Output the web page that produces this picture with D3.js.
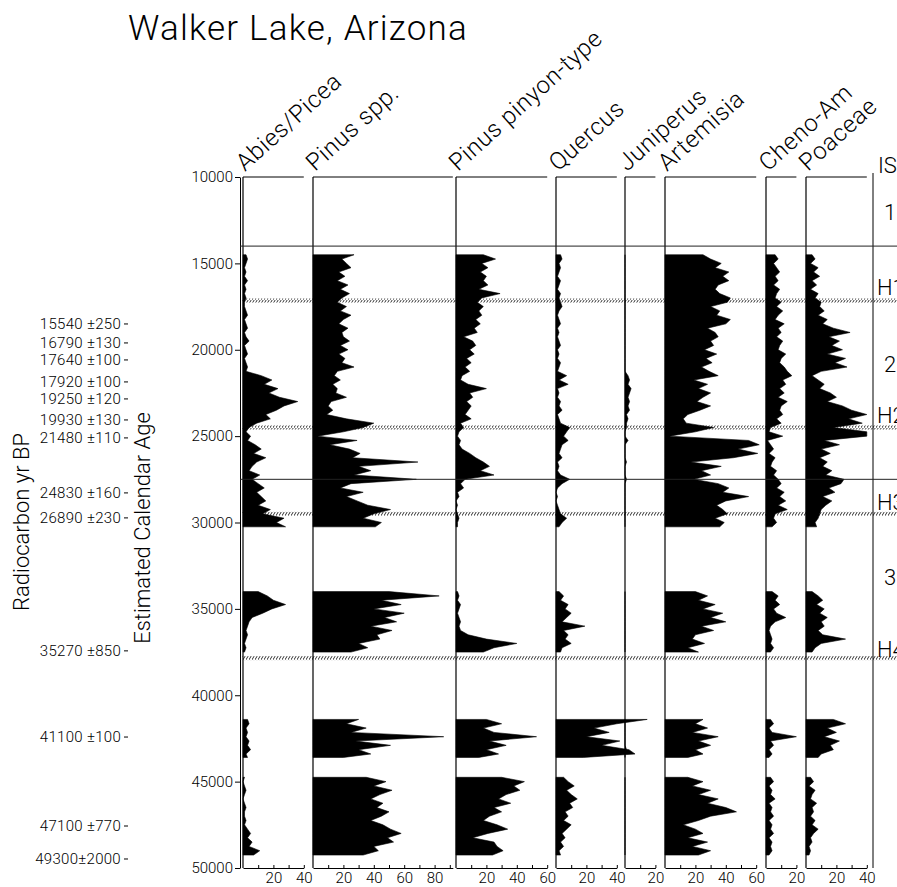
<!DOCTYPE html>
<html><head><meta charset="utf-8">
<script src="https://cdn.jsdelivr.net/npm/d3@7"></script>
<style>
body{margin:0;background:#fff}
svg{display:block}
text{font-family:Roboto,"DejaVu Sans",sans-serif;font-weight:300;fill:#000}
</style>
</head><body>
<svg id="c" width="897" height="887"></svg>
<script>
// ---------------- DATA ----------------
const title = "Walker Lake, Arizona";
const taxa = ["Abies/Picea","Pinus spp.","Pinus pinyon-type","Quercus","Juniperus","Artemisia","Cheno-Am","Poaceae"];
const taxonMax = [40, 92, 60, 40, 20, 60, 20, 40];
const ageTicks = [10000,15000,20000,25000,30000,35000,40000,45000,50000];

// calendar ages of samples (four core sections)
const ages = [
 14500,14750,15000,15250,15500,15750,16000,16250,16500,16750,17000,17250,17500,17750,18000,18250,
 18500,18750,19000,19250,19500,19750,20000,20250,20500,20750,21000,21250,21500,21750,22000,22250,
 22500,22750,23000,23250,23500,23750,24000,24250,24500,24750,25000,25250,25500,25750,26000,26250,
 26500,26750,27000,27250,27500,27750,28000,28250,28500,28750,29000,29250,29500,29750,30000,30250,
 34000,34250,34500,34750,35000,35250,35500,35750,36000,36250,36500,36750,37000,37250,37500,
 41400,41650,41900,42150,42400,42650,42900,43150,43400,43600,
 44750,45000,45250,45500,45750,46000,46250,46500,46750,47000,47250,47500,47750,48000,48250,48500,48750,49000,49250
];
const sections = [[14500,30250],[34000,37500],[41400,43600],[44750,49250]];

const abiesPicea = [
 2,3,2,1,2,1,3,1, 2,1,2,1,1,2,3,1, 2,3,1,2,4,1,2,3, 1,2,3,2,12,19,14,23,
 17,24,36,27,22,15,18,9, 4,2,5,3,8,12,7,15, 9,6,4,11,6,10,14,9, 12,15,10,18,13,27,22,28,
 10,16,20,28,19,13,6,4,3,2,3,2,1,2,1,
 3,4,2,3,2,4,3,5,2,3,
 1,0,1,2,1,0,1,2,1,1,2,1,3,5,3,6,4,11,7
];
const pinusSpp = [
 27,19,22,25,17,21,16,23, 18,24,19,16,22,18,25,20, 17,23,19,20,24,18,23,17, 21,19,27,16,14,18,13,16,
 15,22,12,10,13,9,22,40, 33,20,3,29,11,24,31,26, 69,30,38,27,68,25,18,33, 22,29,36,51,40,33,45,41,
 50,83,45,58,40,60,47,55,38,52,42,44,30,36,25,
 30,22,35,25,86,28,51,30,38,20,
 35,48,40,52,44,38,46,42,50,45,38,46,51,58,49,53,40,43,33
];
const pinusPinyon = [
 18,26,17,21,16,20,18,21, 15,29,17,14,18,15,17,13, 16,12,14,5,11,13,9,12, 7,10,6,9,4,3,8,20,
 9,11,7,10,8,6,10,3, 5,2,1,3,2,4,9,13, 18,22,16,25,6,3,5,1, 2,0,1,0,1,2,1,1,
 1,2,1,3,2,1,2,3,2,3,8,20,40,25,18,
 20,30,18,25,53,22,33,20,28,15,
 30,45,38,42,33,28,36,25,30,22,18,27,34,21,11,25,27,31,24
];
const quercus = [
 3,4,2,3,2,1,3,2, 1,3,2,3,4,2,1,2, 3,1,2,1,2,3,1,2, 1,3,2,1,7,2,8,1,
 2,1,3,2,4,1,2,3, 9,7,5,8,4,3,2,4, 1,2,1,3,9,4,1,0, 1,0,1,2,3,7,4,2,
 2,5,3,8,6,10,7,4,19,5,8,6,10,4,3,
 60,40,25,35,20,42,30,48,52,18,
 5,8,12,7,10,14,9,11,6,8,5,10,7,4,6,3,5,2,3
];
const juniperus = [
 0,0,0,0,0,0,0,0, 0,0,0,0,0,0,0,0, 0,0,0,0,0,0,0,0, 0,0,0,0,2,3,2,4,
 3,2,3,2,3,1,2,1, 1,0,0,2,0,0,0,0, 1,0,0,0,1,0,0,0, 0,0,0,0,0,0,0,0,
 0,0,0,0,0,0,0,0,0,0,0,0,0,0,0,
 0,0,0,0,0,0,0,1,0,0,
 0,0,0,0,0,0,0,0,0,0,0,0,0,0,0,0,0,0,0
];
const artemisia = [
 25,30,37,33,42,38,42,35, 33,36,43,41,30,36,34,43, 40,28,33,35,30,32,26,34, 27,31,24,29,35,19,28,22,
 30,25,21,30,23,15,12,14, 32,20,3,55,62,48,61,45, 17,37,24,30,19,35,42,38, 55,40,34,38,41,33,39,36,
 20,28,22,33,25,38,30,40,24,32,20,18,26,15,22,
 25,20,28,18,35,22,30,20,25,15,
 15,25,18,30,22,35,28,40,47,30,22,12,20,25,15,28,18,30,22
];
const chenoAm = [
 6,8,5,7,9,6,8,5, 9,7,6,10,7,11,8,6, 12,8,10,7,11,9,8,13, 10,9,12,14,17,11,13,9,
 12,8,14,10,9,11,7,10, 3,2,11,1,3,5,2,6, 4,3,7,5,8,10,7,12, 9,13,8,14,6,5,7,4,
 4,8,6,9,5,7,13,6,3,2,3,4,3,5,3,
 3,5,2,4,20,3,5,2,4,2,
 3,5,2,4,3,6,2,4,3,5,2,4,3,5,2,4,3,4,2
];
const poaceae = [
 4,6,3,8,5,9,4,7, 3,8,6,10,9,12,8,14, 11,18,29,15,22,17,24,14, 26,19,27,10,4,8,12,9,
 16,20,14,24,30,40,28,37, 18,40,40,12,22,10,16,9, 14,11,17,13,25,23,15,19, 11,17,13,10,9,8,6,7,
 4,8,11,7,12,9,14,10,12,8,11,26,10,6,4,
 18,26,14,20,12,22,16,18,10,8,
 3,5,2,6,4,3,7,4,5,3,6,4,8,5,3,4,2,3,2
];
const series = [abiesPicea, pinusSpp, pinusPinyon, quercus, juniperus, artemisia, chenoAm, poaceae];

const radiocarbonLabels = ["15540 \u00b1250","16790 \u00b1130","17640 \u00b1100","17920 \u00b1100","19250 \u00b1120","19930 \u00b1130","21480 \u00b1110","24830 \u00b1160","26890 \u00b1230","35270 \u00b1850","41100 \u00b1100","47100 \u00b1770","49300\u00b12000"];
const radiocarbonCalAges = [18507,19606,20590,21863,22847,24063,25104,28287,29734,37431,42419,47569,49479];

const zoneBoundaryAges = [14000, 27500];
const heinrichAges = [17150, 24500, 29500, 37850];
const zoneLabels = ["1","H1","2","H2","H3","3","H4"];
const zoneLabelAges = [12488,16829,21285,24236,29271,33611,37778];
const zoneHeader = "IS";

// ---------------- LAYOUT ----------------
const svg = d3.select("#c");
const TOP = 177, BOT = 868, AXIS_X = 240, K = 1.52;
const panelX = [243, 313, 456, 556, 625, 665, 766, 806];
const zoneX = 873;
const y = d3.scaleLinear().domain([10000, 50000]).range([TOP, BOT]);

const defs = svg.append("defs");
const pat = defs.append("pattern").attr("id","hatch").attr("patternUnits","userSpaceOnUse")
  .attr("width",3).attr("height",4);
pat.append("path").attr("d","M-0.5,4.5 L2.5,-0.5").attr("stroke","#000").attr("stroke-width",0.8);

// title
svg.append("text").attr("x",128).attr("y",40).attr("font-size",35).attr("letter-spacing",1.2).text(title);

// left axis
const gAx = svg.append("g").attr("transform",`translate(${AXIS_X},0)`)
  .call(d3.axisLeft(y).tickValues(ageTicks).tickSize(5).tickSizeOuter(0).tickPadding(2).tickFormat(d3.format("d")));
gAx.select(".domain").attr("stroke","#000");
gAx.selectAll("text").attr("font-family","Roboto").attr("font-size",15).attr("font-weight",300).attr("fill","#000");

// axis titles
svg.append("text").attr("transform","translate(150,528) rotate(-90)").attr("text-anchor","middle")
  .attr("font-size",22).text("Estimated Calendar Age");
svg.append("text").attr("transform","translate(29,522) rotate(-90)").attr("text-anchor","middle")
  .attr("font-size",22).text("Radiocarbon yr BP");

// radiocarbon dates
radiocarbonLabels.forEach((lab,i)=>{
  const yy = y(radiocarbonCalAges[i]);
  svg.append("text").attr("x",121).attr("y",yy).attr("dy","0.36em").attr("text-anchor","end")
    .attr("font-size",15).attr("letter-spacing",0.3).text(lab);
  svg.append("line").attr("x1",124).attr("x2",128).attr("y1",yy).attr("y2",yy).attr("stroke","#000");
});

// panels
taxa.forEach((name,i)=>{
  const max = taxonMax[i];
  const x = d3.scaleLinear().domain([0,max]).range([panelX[i], panelX[i]+max*K]);
  const g = svg.append("g");
  const vals = series[i];
  const area = d3.area().curve(d3.curveLinear).y(d=>y(d.age)).x0(x(0)).x1(d=>x(d.v));
  sections.forEach(([a0,a1])=>{
    const pts = ages.map((a,j)=>({age:a, v:vals[j]})).filter(d=>d.age>=a0 && d.age<=a1);
    g.append("path").datum(pts).attr("d",area).attr("fill","#000").attr("stroke","#000").attr("stroke-width",0.6);
  });
  g.append("line").attr("x1",x(0)).attr("x2",x(0)).attr("y1",TOP).attr("y2",BOT).attr("stroke","#000").attr("stroke-width",1.2);
  g.append("line").attr("x1",x(0)).attr("x2",x(max)).attr("y1",TOP).attr("y2",TOP).attr("stroke","#000").attr("stroke-width",1);
  const minor = d3.range(10, max+0.01, 10);
  const gb = g.append("g").attr("transform",`translate(0,${BOT})`)
    .call(d3.axisBottom(x).tickValues(minor).tickSize(-3).tickSizeOuter(0).tickPadding(4)
      .tickFormat(d=> d%20===0 ? d : ""));
  gb.select(".domain").attr("stroke","#000");
  gb.selectAll("text").attr("font-family","Roboto").attr("font-size",15).attr("font-weight",300).attr("fill","#000");
  // taxon label
  svg.append("text").attr("transform",`translate(${x(0)+2},172) rotate(-42)`)
    .attr("font-size",24).attr("letter-spacing",0.6).text(name);
});

// zone column
svg.append("line").attr("x1",zoneX).attr("x2",zoneX).attr("y1",TOP-4).attr("y2",BOT).attr("stroke","#000");
svg.append("text").attr("x",878).attr("y",173).attr("font-size",22).text(zoneHeader);
zoneLabels.forEach((lab,i)=>{
  svg.append("text").attr("x", lab.length>1 ? 877 : 884).attr("y",y(zoneLabelAges[i]))
    .attr("font-size",22).text(lab);
});

// zone boundaries
zoneBoundaryAges.forEach(a=>{
  svg.append("line").attr("x1",AXIS_X).attr("x2",897).attr("y1",y(a)).attr("y2",y(a))
    .attr("stroke","#222").attr("stroke-width",1);
});
// Heinrich events (hatched)
heinrichAges.forEach(a=>{
  svg.append("rect").attr("x",242).attr("width",655).attr("y",y(a)-2).attr("height",4)
    .attr("fill","url(#hatch)");
});
</script>
</body></html>
